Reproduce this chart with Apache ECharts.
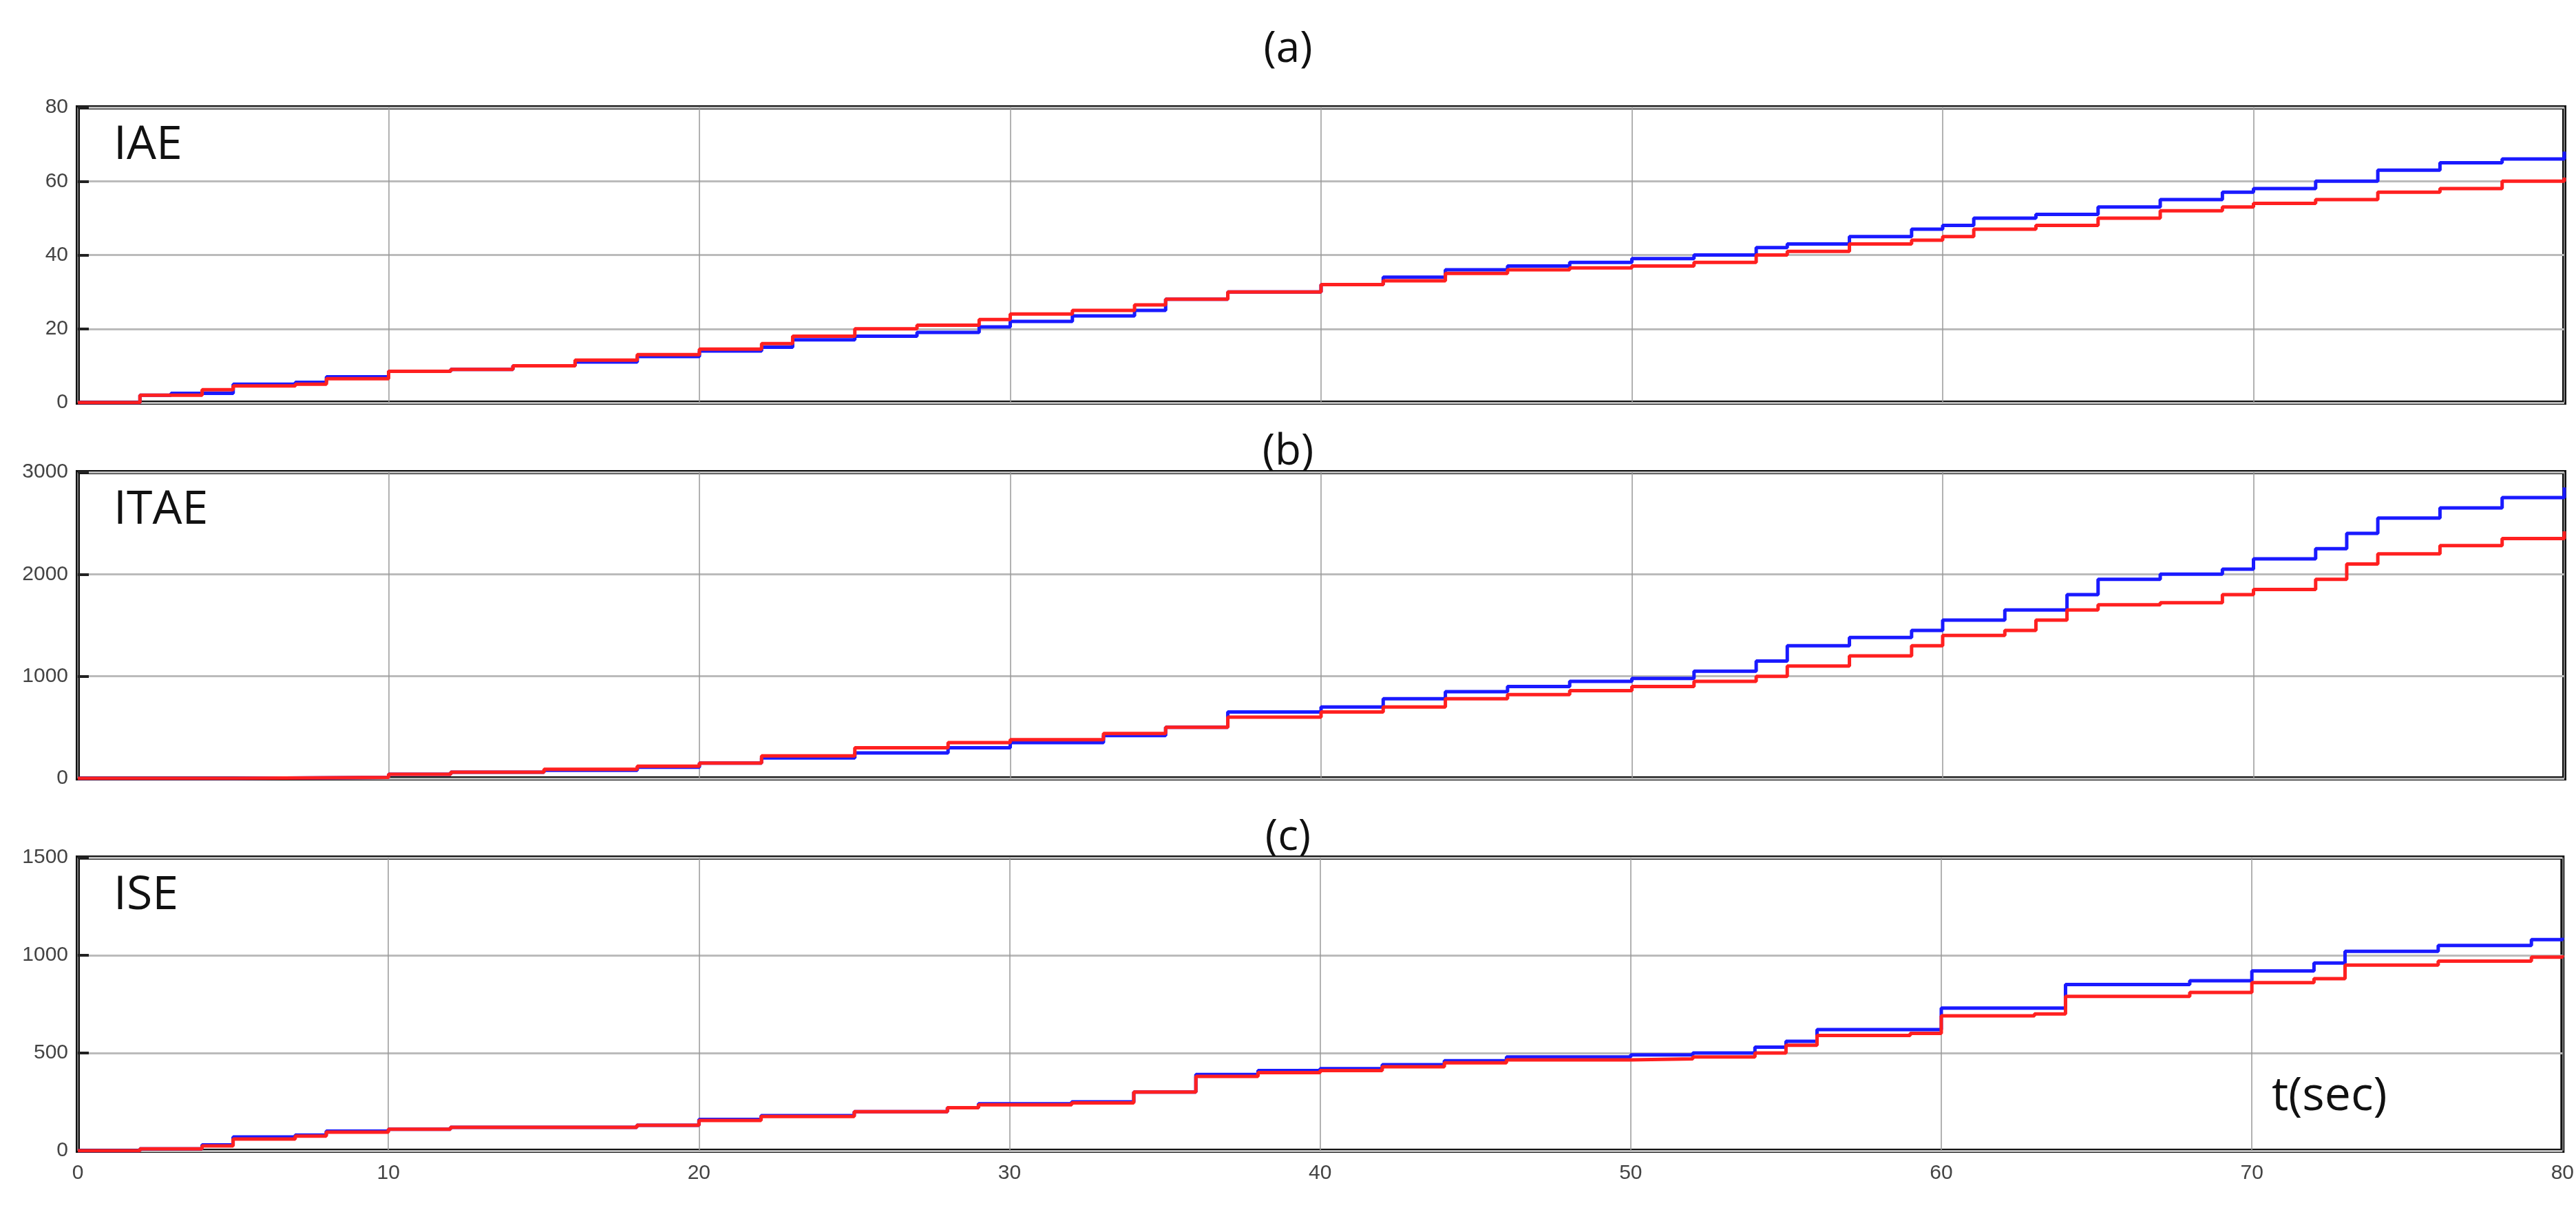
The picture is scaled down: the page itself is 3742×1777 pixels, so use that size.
<!DOCTYPE html>
<html><head><meta charset="utf-8">
<script src="https://cdn.jsdelivr.net/npm/echarts@6/dist/echarts.min.js"></script>
<style>html,body{margin:0;background:#fff}#c{width:3742px;height:1777px}</style>
</head><body><div id="c"></div>
<script>
// [t, value] breakpoints of the step curves
var iaeBlue = [[0,0],[2,2],[3,2.5],[5,5],[7,5.5],[8,7],[10,8.5],[12,9],[14,10],[16,11],[18,12.5],[20,14],[22,15],[23,17],[25,18],[27,19],[29,20.5],[30,22],[32,23.5],[34,25],[35,28],[37,30],[40,32],[42,34],[44,36],[46,37],[48,38],[50,39],[52,40],[54,42],[55,43],[57,45],[59,47],[60,48],[61,50],[63,51],[65,53],[67,55],[69,57],[70,58],[72,60],[74,63],[76,65],[78,66],[80,68]];
var iaeRed = [[0,0],[2,2],[4,3.5],[5,4.5],[7,5],[8,6.5],[10,8.5],[12,9],[14,10],[16,11.5],[18,13],[20,14.5],[22,16],[23,18],[25,20],[27,21],[29,22.5],[30,24],[32,25],[34,26.5],[35,28],[37,30],[40,32],[42,33],[44,35],[46,36],[48,36.5],[50,37],[52,38],[54,40],[55,41],[57,43],[59,44],[60,45],[61,47],[63,48],[65,50],[67,52],[69,53],[70,54],[72,55],[74,57],[76,58],[78,60],[80,61]];
var itaeBlue = [[0,0],[5,10],[10,40],[12,60],[15,80],[18,110],[20,150],[22,200],[25,250],[28,300],[30,350],[33,420],[35,500],[37,650],[40,700],[42,780],[44,850],[46,900],[48,950],[50,980],[52,1050],[54,1150],[55,1300],[57,1380],[59,1450],[60,1550],[62,1650],[64,1800],[65,1950],[67,2000],[69,2050],[70,2150],[72,2250],[73,2400],[74,2550],[76,2650],[78,2750],[80,2850]];
var itaeRed = [[0,0],[5,10],[10,40],[12,60],[15,90],[18,120],[20,150],[22,220],[25,300],[28,350],[30,380],[33,440],[35,500],[37,600],[40,650],[42,700],[44,780],[46,820],[48,860],[50,900],[52,950],[54,1000],[55,1100],[57,1200],[59,1300],[60,1400],[62,1450],[63,1550],[64,1650],[65,1700],[67,1720],[69,1800],[70,1850],[72,1950],[73,2100],[74,2200],[76,2280],[78,2350],[80,2420]];
var iseBlue = [[0,0],[2,10],[4,30],[5,70],[7,80],[8,100],[10,110],[12,120],[18,130],[20,160],[22,180],[25,200],[28,220],[29,240],[32,250],[34,300],[36,390],[38,410],[40,420],[42,440],[44,460],[46,480],[50,490],[52,500],[54,530],[55,560],[56,620],[59,620],[60,730],[63,730],[64,850],[68,870],[70,920],[72,960],[73,1020],[76,1050],[79,1080],[80,1090]];
var iseRed = [[0,0],[2,10],[4,25],[5,60],[7,75],[8,95],[10,110],[12,120],[18,130],[20,155],[22,175],[25,200],[28,220],[29,235],[32,245],[34,300],[36,380],[38,400],[40,410],[42,430],[44,450],[46,465],[50,470],[52,480],[54,500],[55,540],[56,590],[59,600],[60,690],[63,700],[64,790],[68,810],[70,860],[72,880],[73,950],[76,970],[79,990],[80,1000]];

var tops = [156, 686, 1246], bots = [585, 1131, 1672];
var yMax = [80, 3000, 1500], yInt = [20, 1000, 500];
var titles = ['(a)', '(b)', '(c)'], names = ['IAE', 'ITAE', 'ISE'];
var data = [[iaeBlue, iaeRed], [itaeBlue, itaeRed], [iseBlue, iseRed]];

var grids = [], xAxes = [], yAxes = [], series = [], text = [];
var lblFont = 'Liberation Sans Narrow, Liberation Sans';
for (var i = 0; i < 3; i++) {
  grids.push({left: 113, right: 17, top: tops[i], height: bots[i] - tops[i], show: true,
    borderColor: '#111', borderWidth: 6, backgroundColor: '#fff'});
  xAxes.push({gridIndex: i, type: 'value', min: 0, max: 80, interval: 10,
    axisLine: {show: false}, axisTick: {show: false},
    axisLabel: {show: i == 2, fontSize: 30, color: '#444', fontFamily: lblFont, margin: 18},
    splitLine: {show: true, lineStyle: {color: '#999', width: 1.5}}});
  yAxes.push({gridIndex: i, type: 'value', min: 0, max: yMax[i], interval: yInt[i],
    axisLine: {show: false}, axisTick: {show: true, inside: true, length: 16, lineStyle: {color: '#222', width: 4}},
    axisLabel: {fontSize: 30, color: '#444', fontFamily: lblFont, margin: 14, formatter: function (v) { return String(v); }},
    splitLine: {show: true, lineStyle: {color: '#bbb', width: 3}}});
  series.push({type: 'line', step: 'end', xAxisIndex: i, yAxisIndex: i, data: data[i][0], symbol: 'none',
    lineStyle: {color: '#1a1aff', width: 5}});
  series.push({type: 'line', step: 'end', xAxisIndex: i, yAxisIndex: i, data: data[i][1], symbol: 'none',
    lineStyle: {color: '#ff2020', width: 5}});
  text.push({type: 'text', left: 'center', top: tops[i] - (i == 0 ? 115 : 60),
    style: {text: titles[i], font: '62px "Open Sans", sans-serif', fill: '#111'}});
  text.push({type: 'text', left: 165, top: tops[i] + 22,
    style: {text: names[i], font: '68px "Open Sans", sans-serif', fill: '#111'}});
}
text.push({type: 'text', left: 3300, top: 1560, style: {text: 't(sec)', font: '68px "Open Sans", sans-serif', fill: '#111'}});

var chart = echarts.init(document.getElementById('c'));
chart.setOption({animation: false, grid: grids, xAxis: xAxes, yAxis: yAxes, series: series, graphic: text});
</script></body></html>
